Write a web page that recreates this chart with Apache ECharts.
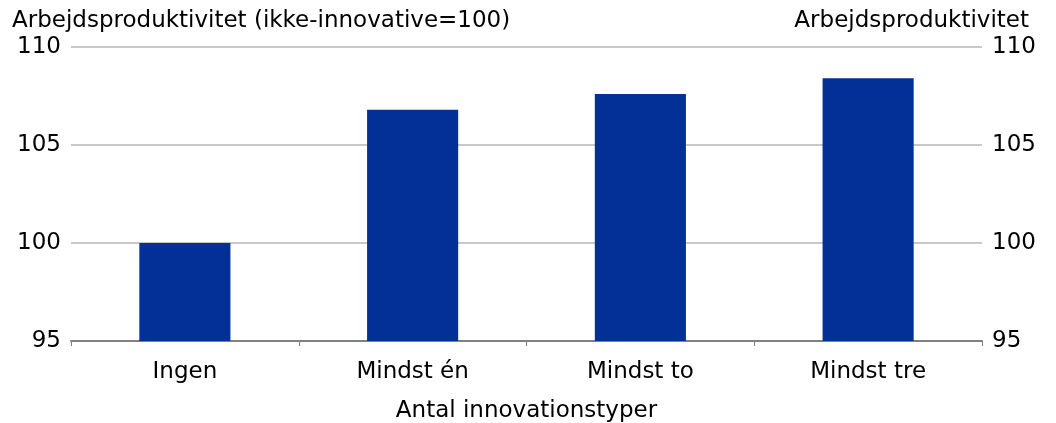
<!DOCTYPE html>
<html>
<head>
<meta charset="utf-8">
<script src="https://cdn.jsdelivr.net/npm/echarts@6/dist/echarts.min.js"></script>
<style>
  html, body { margin: 0; padding: 0; background: #fff; }
  #chart { width: 1056px; height: 423px; }
</style>
</head>
<body>
<div id="chart"></div>
<script>
// Labour productivity by number of innovation types (non-innovative = 100)
const categories = ['Ingen', 'Mindst én', 'Mindst to', 'Mindst tre'];
const productivity = [100, 106.8, 107.6, 108.4];
const leftTitle = 'Arbejdsproduktivitet (ikke-innovative=100)';
const rightTitle = 'Arbejdsproduktivitet';
const xAxisTitle = 'Antal innovationstyper';

const FONT = 'DejaVu Sans, Verdana, sans-serif';
const TEXT = '#000000';
const FS = 23;

const chart = echarts.init(document.getElementById('chart'), null, { renderer: 'canvas' });

const valueAxis = (pos) => ({
  type: 'value',
  position: pos,
  min: 95,
  max: 110,
  interval: 5,
  axisLine: { show: false },
  axisTick: { show: false },
  splitLine: { show: pos === 'left', lineStyle: { color: '#c8c8c8', width: 2 } },
  axisLabel: { color: TEXT, fontFamily: FONT, fontSize: FS, margin: 10 }
});

chart.setOption({
  animation: false,
  backgroundColor: '#ffffff',
  title: [
    { text: leftTitle, left: 7, top: 5,
      textStyle: { color: TEXT, fontFamily: FONT, fontSize: FS, fontWeight: 'normal' } },
    { text: rightTitle, right: 22, top: 5,
      textStyle: { color: TEXT, fontFamily: FONT, fontSize: FS, fontWeight: 'normal' } }
  ],
  grid: { left: 71, right: 74, top: 47, bottom: 82, containLabel: false, outerBoundsMode: 'none' },
  xAxis: {
    type: 'category',
    data: categories,
    boundaryGap: true,
    name: xAxisTitle,
    nameLocation: 'middle',
    nameGap: 59,
    nameTextStyle: { color: TEXT, fontFamily: FONT, fontSize: FS },
    axisLine: { show: true, lineStyle: { color: '#808080', width: 2 } },
    axisTick: { show: true, alignWithLabel: false, length: 5, lineStyle: { color: '#808080', width: 1 } },
    axisLabel: { color: TEXT, fontFamily: FONT, fontSize: FS, margin: 20 }
  },
  yAxis: [valueAxis('left'), valueAxis('right')],
  series: [{
    type: 'bar',
    data: productivity,
    barWidth: '40%',
    itemStyle: { color: '#033096' }
  }]
});
</script>
</body>
</html>
